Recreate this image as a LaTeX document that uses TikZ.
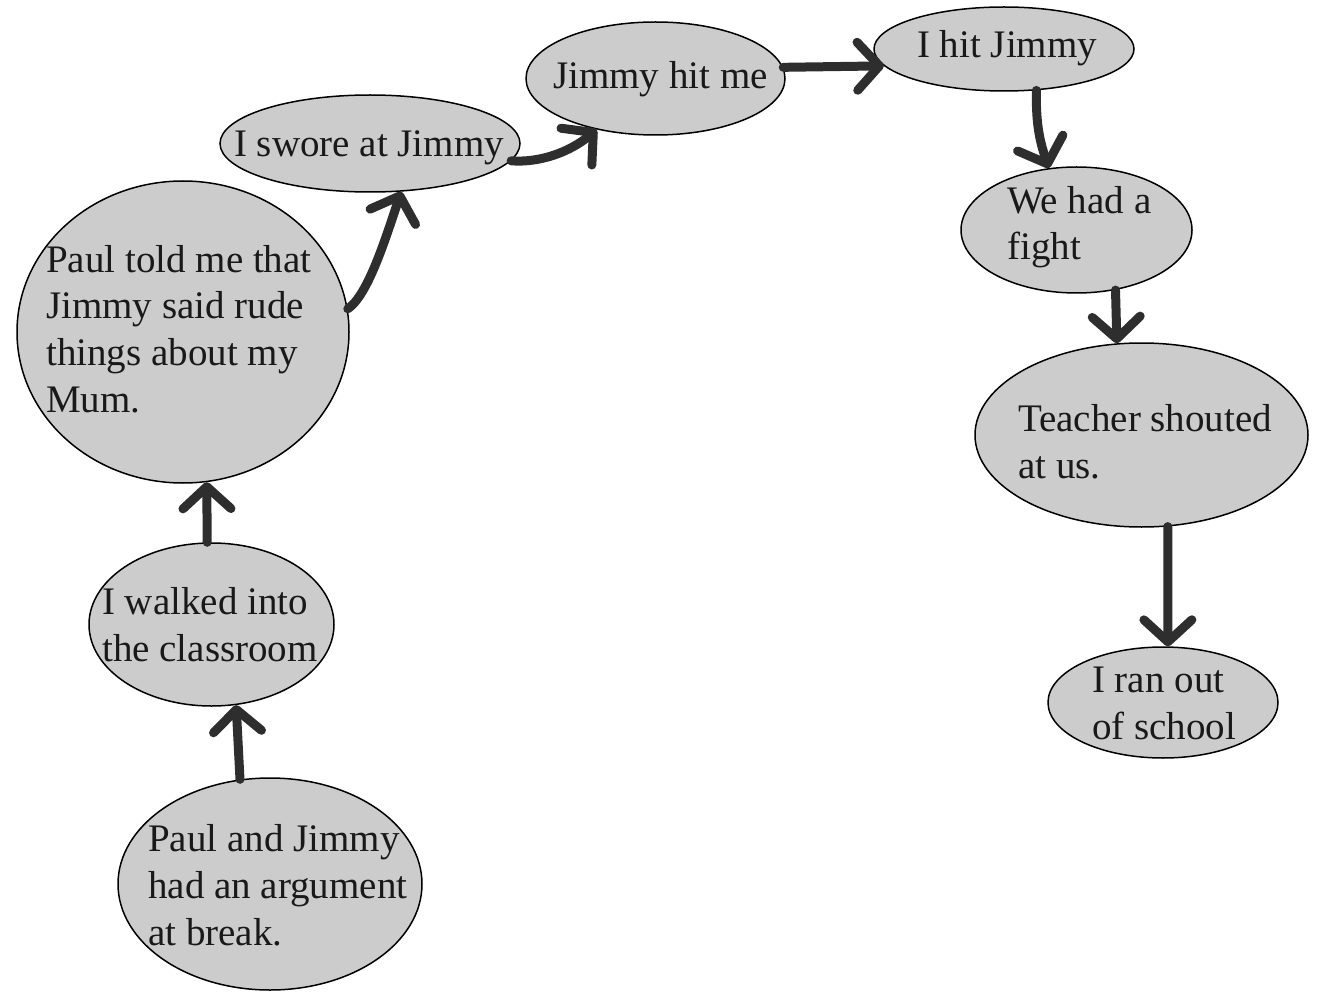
\documentclass[tikz,border=0pt]{standalone}
\usepackage{fontspec}
\setmainfont{Liberation Serif}
\usetikzlibrary{shapes.geometric,arrows.meta}
\definecolor{bubble}{HTML}{CCCCCC}
\definecolor{inkarrow}{HTML}{2E2E2E}
\tikzset{
  event/.style={ellipse, draw=black, line width=1.5pt, fill=bubble, inner sep=0pt},
  evtext/.style={anchor=west, inner sep=0pt, align=left, text=black!90,
    font=\fontsize{39pt}{46.7pt}\selectfont},
  conn/.style={draw=inkarrow, line width=9pt, line cap=round,
    -{Straight Barb[length=22pt,width=48pt,round]}},
}
\begin{document}
\begin{tikzpicture}[x=1pt,y=-1pt]
\useasboundingbox (0,0) rectangle (1317,992);
% event ellipses
\node[event, minimum width=304pt, minimum height=212pt] (arg) at (270,884) {};
\node[event, minimum width=245pt, minimum height=163pt] (walk) at (211.5,624.5) {};
\node[event, minimum width=332pt, minimum height=302pt] (paul) at (183,332) {};
\node[event, minimum width=300pt, minimum height=97pt] (swore) at (370,143.5) {};
\node[event, minimum width=259pt, minimum height=113pt] (jhm) at (655.5,78.5) {};
\node[event, minimum width=260pt, minimum height=84pt] (ihj) at (1004,49) {};
\node[event, minimum width=231pt, minimum height=126pt] (fight) at (1076.5,230) {};
\node[event, minimum width=333pt, minimum height=184pt] (teacher) at (1141.5,435) {};
\node[event, minimum width=230pt, minimum height=111pt] (ran) at (1163,702.5) {};
% texts
\node[evtext] (argT) at (148,885.4) {Paul and Jimmy\\had an argument\\at break.};
\node[evtext] (walkT) at (102,625) {I walked into\\the classroom};
\node[evtext] (paulT) at (46,328.8) {Paul told me that\\Jimmy said rude\\things about my\\Mum.};
\node[evtext] (sworeT) at (234,148) {I swore at Jimmy};
\node[evtext] (jhmT) at (553,79.3) {Jimmy hit me};
\node[evtext] (ihjT) at (917,48) {I hit Jimmy};
\node[evtext] (fightT) at (1007,227.3) {We had a\\fight};
\node[evtext] (teacherT) at (1018,442) {Teacher shouted\\at us.};
\node[evtext] (ranT) at (1092,703.5) {I ran out\\of school};
% connectors
\draw[conn] (arg.106) -- (walk.-73);
\draw[conn] (walk.93) -- (paul.-81);
\draw[conn] (paul.8.5) .. controls (368,295) and (385,240) .. (swore.-57);
\draw[conn] (swore.-7) .. controls (540,163) and (570,152) .. (jhm.-139);
\draw[conn] (jhm.5) -- (ihj.188);
\draw[conn] (ihj.-52) to[bend right=10] (fight.114);
\draw[conn] (fight.-57) -- (teacher.105);
\draw[conn] (teacher.-74) -- (ran.85);
\end{tikzpicture}
\end{document}
